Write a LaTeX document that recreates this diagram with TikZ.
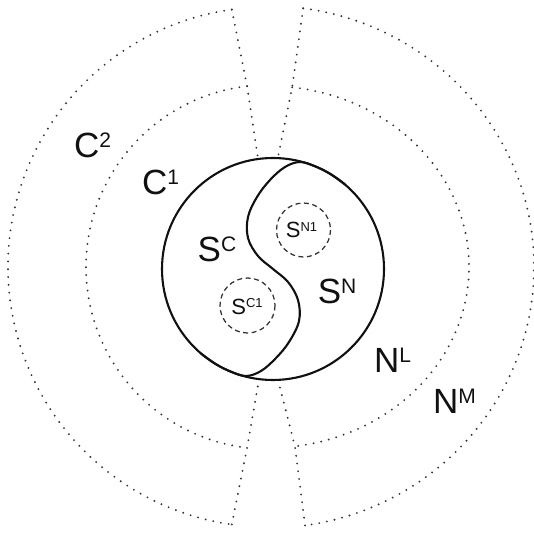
\documentclass[tikz,border=0pt]{standalone}
\usepackage{fontspec}
\setmainfont{Liberation Sans}
\definecolor{ink}{HTML}{111111}
\definecolor{dotc}{HTML}{363636}
\definecolor{dashc}{HTML}{333333}
\newcommand{\biglab}[2]{\fontsize{35}{35}\selectfont #1\raisebox{10pt}{\fontsize{21}{21}\selectfont #2}}
\newcommand{\smalllab}[2]{\fontsize{22}{22}\selectfont #1\raisebox{6.4pt}{\fontsize{13}{13}\selectfont #2}}
\begin{document}
\begin{tikzpicture}[x=1pt,y=-1pt,
  dotline/.style={draw=dotc, line width=2.1pt, line cap=round, dash pattern=on 0pt off 7.8pt},
  mainline/.style={draw=ink, line width=2.1pt},
  dashcirc/.style={draw=dashc, line width=1.25pt, dash pattern=on 5pt off 3.5pt},
  lab/.style={inner sep=0pt, text=ink}]
\useasboundingbox (0,0) rectangle (533,534);
% left sector (C)
\coordinate (LC) at (268,267);
\draw[dotline] (LC) ++(262:260) coordinate (LOt) arc[start angle=262, end angle=98, radius=260] coordinate (LOb);
\draw[dotline] (LC) ++(263.4:182) coordinate (LIt) arc[start angle=263.4, end angle=96.6, radius=182] coordinate (LIb);
\coordinate (Lint) at (258.5,162);
\coordinate (Linb) at (259.6,376);
\draw[dotline] (LOt) -- (LIt) -- (Lint);
\draw[dotline] (LOb) -- (LIb) -- (Linb);
% right sector (N)
\coordinate (RC) at (268,267);
\draw[dotline] (RC) ++(-82.4:266 and 261) coordinate (ROt) arc[start angle=-82.4, end angle=82, x radius=266, y radius=261] coordinate (ROb);
\draw[dotline] (RC) ++(-83.1:201 and 181) coordinate (RIt) arc[start angle=-83.1, end angle=82.3, x radius=201, y radius=181] coordinate (RIb);
\coordinate (Rint) at (277,162);
\coordinate (Rinb) at (277,376);
\draw[dotline] (ROt) -- (RIt) -- (Rint);
\draw[dotline] (ROb) -- (RIb) -- (Rinb);
% main circle
\draw[mainline, fill=white] (273,269) circle[radius=111];
% S-curve
\draw[mainline] plot[smooth, tension=0.6] coordinates {(345,184.5) (330,173.8) (315,166.3) (300,162) (285,167) (270,180) (257,197) (248,217) (248,238) (258,256) (273,269) (288,282) (298,300) (299,321) (289,342) (276,358) (261,371) (246,376) (231,371.7) (216,364.2) (201,353.5)};
% dashed circles
\draw[dashcirc] (303.5,230) circle[radius=27];
\draw[dashcirc] (247.5,305.5) circle[radius=27.5];
% labels
\node[lab] (sc) at (217,249) {\biglab{S}{C}};
\node[lab] (sn) at (337,291.5) {\biglab{S}{N}};
\node[lab] (c1) at (160.5,182.5) {\biglab{C}{1}};
\node[lab] (c2) at (92.5,145.5) {\biglab{C}{2}};
\node[lab] (nl) at (392.5,360) {\biglab{N}{L}};
\node[lab] (nm) at (454.5,401.5) {\biglab{N}{M}};
\node[lab] (sn1) at (301.5,230) {\smalllab{S}{N1}};
\node[lab] (sc1) at (247,306.5) {\smalllab{S}{C1}};
\end{tikzpicture}
\end{document}
